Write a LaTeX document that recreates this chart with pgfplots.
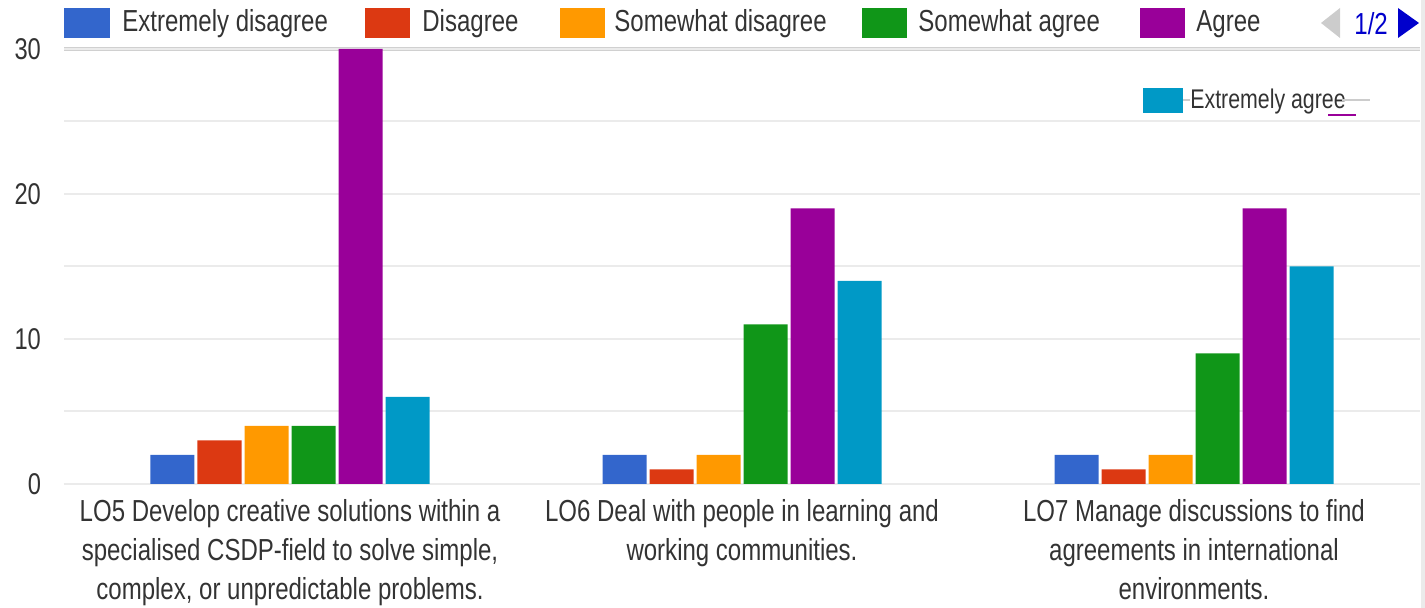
\documentclass[border=0pt]{standalone}
\usepackage{pgfplots}
\pgfplotsset{compat=1.18}
\usepackage{fontspec}
\setmainfont{Liberation Sans}[FakeStretch=0.79]
\definecolor{cA}{HTML}{3366CC}
\definecolor{cB}{HTML}{DC3912}
\definecolor{cC}{HTML}{FF9900}
\definecolor{cD}{HTML}{109618}
\definecolor{cE}{HTML}{990099}
\definecolor{cF}{HTML}{0099C6}
\definecolor{txt}{HTML}{333333}
\definecolor{gridc}{HTML}{EBEBEB}
\definecolor{topc}{HTML}{D0D0D0}
\definecolor{basec}{HTML}{3A3A3A}
\definecolor{pager}{HTML}{0000CC}
\begin{document}
\begin{tikzpicture}[x=0.5pt,y=0.5pt]
\path[use as bounding box] (0,0) rectangle (1425,608);
\fill[gridc] (1421,0) rectangle (1425,608);
\draw[topc, line width=1.6pt] (64,559) -- (1420,559);
\begin{axis}[
  at={(32pt,62pt)}, anchor=south west, scale only axis,
  width=678pt, height=217.5pt,
  xmin=-0.5, xmax=2.5, ymin=0, ymax=30,
  ybar=1.5pt, bar width=22pt,
  axis line style={draw=none},
  major tick length=0pt, minor tick length=0pt,
  ytick={0,10,20,30}, minor ytick={5,15,25},
  ymajorgrids, yminorgrids,
  major grid style={draw=gridc, line width=1pt},
  minor grid style={draw=gridc, line width=1pt},
  extra y ticks={0}, extra y tick labels={},
  extra y tick style={grid style={draw=basec, line width=1.2pt}},
  xtick={0,1,2},
  xticklabels={{LO5 Develop creative solutions within a\\specialised CSDP-field to solve simple,\\complex, or unpredictable problems.},
               {LO6 Deal with people in learning and\\working communities.},
               {LO7 Manage discussions to find\\agreements in international\\environments.}},
  x tick label style={align=center, font=\fontsize{15.2}{19.5}\selectfont, text=txt, anchor=north, yshift=-4pt},
  y tick label style={font=\fontsize{15}{17}\selectfont, text=txt},
  yticklabel style={xshift=-8pt},
  /pgf/number format/assume math mode=true,
  every axis plot/.append style={draw=none},
]
\addplot[fill=cA] coordinates {(0,2) (1,2) (2,2)};
\addplot[fill=cB] coordinates {(0,3) (1,1) (2,1)};
\addplot[fill=cC] coordinates {(0,4) (1,2) (2,2)};
\addplot[fill=cD] coordinates {(0,4) (1,11) (2,9)};
\addplot[fill=cE] coordinates {(0,30) (1,19) (2,19)};
\addplot[fill=cF] coordinates {(0,6) (1,14) (2,15)};
\end{axis}
% top legend
\begin{scope}[font=\fontsize{15.2}{18}\selectfont, text=txt]
\fill[cA] (64,570) rectangle (110,600);
\node[anchor=west, inner sep=0] at (122,584) {Extremely disagree};
\fill[cB] (365,570) rectangle (410,600);
\node[anchor=west, inner sep=0] at (422,584) {Disagree};
\fill[cC] (560,570) rectangle (605,600);
\node[anchor=west, inner sep=0] at (614,584) {Somewhat disagree};
\fill[cD] (862,570) rectangle (907,600);
\node[anchor=west, inner sep=0] at (918,584) {Somewhat agree};
\fill[cE] (1140,570) rectangle (1185,600);
\node[anchor=west, inner sep=0] at (1196,584) {Agree};
\fill[gray!40] (1340,600) -- (1340,570) -- (1321,585) -- cycle;
\node[anchor=west, inner sep=0, text=pager] at (1354,584) {1/2};
\fill[pager] (1398,600) -- (1398,570) -- (1419,585) -- cycle;
\end{scope}
% inner legend
\fill[cF] (1143,495) rectangle (1183,520);
\draw[gray!40, line width=0.8pt] (1183,508) -- (1190,508);
\node[anchor=west, inner sep=0, text=txt, font=\fontsize{13.5}{16}\selectfont] at (1190,506) {Extremely agree};
\draw[gray!40, line width=0.8pt] (1342,508) -- (1370,508);
\draw[cE, line width=0.6pt] (1328,493) -- (1356,493);
\end{tikzpicture}
\end{document}
